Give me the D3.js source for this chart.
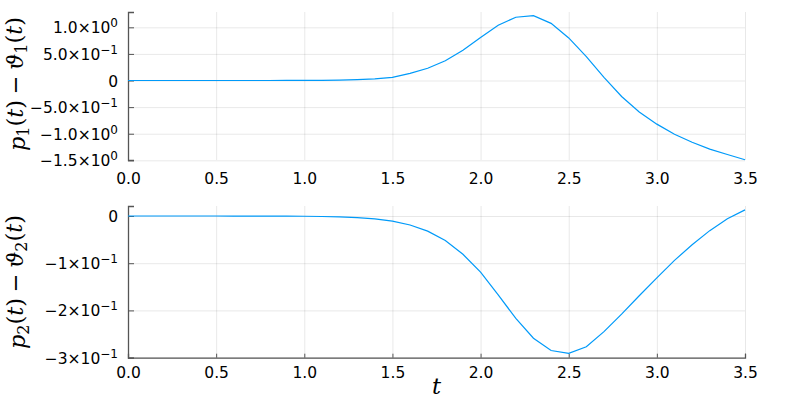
<!DOCTYPE html>
<html>
<head>
<meta charset="utf-8">
<script src="https://cdn.jsdelivr.net/npm/d3@7"></script>
<style>
  body { margin: 0; background: #fff; }
  .tick text { font-family: "DejaVu Sans", sans-serif; font-size: 15.5px; fill: #000; }
  .grid line { stroke: #000; stroke-opacity: 0.09; }
  .grid .domain { display: none; }
  .math { font-family: "DejaVu Serif", serif; font-size: 22.5px; }
</style>
</head>
<body>
<svg id="chart" width="800" height="400"></svg>
<script>
var tValues = [0.0, 0.1, 0.2, 0.3, 0.4, 0.5, 0.6, 0.7, 0.8, 0.9,
  1.0, 1.1, 1.2, 1.3, 1.4, 1.5, 1.6, 1.7, 1.8, 1.9,
  2.0, 2.1, 2.2, 2.3, 2.4, 2.5, 2.6, 2.7, 2.8, 2.9,
  3.0, 3.1, 3.2, 3.3, 3.4, 3.5];

var diff1 = [0, 0, 0, 0, 0, 0, 0.0002, 0.0004, 0.0007, 0.001,
  0.002, 0.004, 0.008, 0.016, 0.03, 0.058, 0.135, 0.23, 0.37, 0.57,
  0.81, 1.04, 1.19, 1.22, 1.075, 0.80, 0.45, 0.06, -0.30, -0.59,
  -0.82, -1.01, -1.16, -1.29, -1.39, -1.49];

var diff2 = [0, 0, 0, 0, 0, 0, -0.00005, -0.0001, -0.0002, -0.0003,
  -0.0005, -0.001, -0.002, -0.0035, -0.006, -0.011, -0.019, -0.032, -0.052, -0.081,
  -0.119, -0.167, -0.217, -0.259, -0.285, -0.291, -0.277, -0.245, -0.208, -0.169,
  -0.131, -0.094, -0.061, -0.031, -0.006, 0.013];

var xTicks = [0, 0.5, 1.0, 1.5, 2.0, 2.5, 3.0, 3.5];

var yTicks1 = [1.0, 0.5, 0, -0.5, -1.0, -1.5];
var yLabels1 = [["1.0", "0"], ["5.0", "\u22121"], ["0", null], ["\u22125.0", "\u22121"], ["\u22121.0", "0"], ["\u22121.5", "0"]];

var yTicks2 = [0, -0.1, -0.2, -0.3];
var yLabels2 = [["0", null], ["\u22121", "\u22121"], ["\u22122", "\u22121"], ["\u22123", "\u22121"]];

var svg = d3.select('#chart');
var left = 128, right = 745;

var x = d3.scaleLinear().domain([0, 3.5]).range([left, right]);

var panels = [
  { data: diff1, top: 12, bottom: 160, domain: [-1.494, 1.288], ticks: yTicks1, labels: yLabels1, sub: '1', xaxis: false, labY: 84 },
  { data: diff2, top: 206, bottom: 357.7, domain: [-0.3002, 0.0212], ticks: yTicks2, labels: yLabels2, sub: '2', xaxis: true, labY: 282 }
];

panels.forEach(p => {
  var y = d3.scaleLinear().domain(p.domain).range([p.bottom, p.top]);
  var h = p.bottom - p.top;

  // grid
  svg.append('g')
    .attr('class', 'grid')
    .attr('transform', 'translate(0,' + p.bottom + ')')
    .call(d3.axisBottom(x).tickValues(xTicks).tickSize(-h).tickFormat(''));
  svg.append('g')
    .attr('class', 'grid')
    .attr('transform', 'translate(' + left + ',0)')
    .call(d3.axisLeft(y).tickValues(p.ticks).tickSize(-(right - left)).tickFormat(''));

  // x axis
  var xa = svg.append('g')
    .attr('transform', 'translate(0,' + p.bottom + ')')
    .call(d3.axisBottom(x).tickValues(xTicks).tickSize(p.xaxis ? -4 : 0).tickPadding(p.xaxis ? 9 : 13).tickFormat(d3.format('.1f')));
  xa.select('.domain').attr('stroke', p.xaxis ? '#555' : 'none').attr('stroke-width', 1.3);
  xa.selectAll('.tick line').attr('stroke', '#555');

  // y axis
  var ya = svg.append('g')
    .attr('transform', 'translate(' + left + ',0)')
    .call(d3.axisLeft(y).tickValues(p.ticks).tickSize(-6).tickPadding(12).tickFormat(''));
  ya.select('.domain').attr('stroke', '#555').attr('stroke-width', 1.3);
  ya.selectAll('.tick line').attr('stroke', '#555');
  ya.selectAll('.tick text').each(function(d, i) {
    var t = d3.select(this).attr('x', -10).attr('dy', '0.36em');
    var lab = p.labels[i];
    t.append('tspan').text(lab[0]);
    if (lab[1] !== null) {
      t.append('tspan').text('\u00d710');
      t.append('tspan').attr('dy', '-0.5em').style('font-size', '12px').text(lab[1]);
    }
  });

  // line
  var line = d3.line().x((d, i) => x(tValues[i])).y(d => y(d));
  svg.append('path')
    .datum(p.data)
    .attr('fill', 'none')
    .attr('stroke', '#009af9')
    .attr('stroke-width', 1.2)
    .attr('d', line);

  // y label
  var lab = svg.append('text')
    .attr('class', 'math')
    .attr('text-anchor', 'middle')
    .attr('transform', 'translate(25,' + p.labY + ') rotate(-90)');
  lab.append('tspan').style('font-style', 'italic').text('p');
  lab.append('tspan').attr('dy', '0.25em').style('font-size', '16px').text(p.sub);
  lab.append('tspan').attr('dy', '-0.25em').text('(');
  lab.append('tspan').style('font-style', 'italic').text('t');
  lab.append('tspan').text(')\u2005\u2212\u2005');
  lab.append('tspan').style('font-style', 'italic').text('\u03d1');
  lab.append('tspan').attr('dy', '0.25em').style('font-size', '16px').text(p.sub);
  lab.append('tspan').attr('dy', '-0.25em').text('(');
  lab.append('tspan').style('font-style', 'italic').text('t');
  lab.append('tspan').text(')');
});

svg.append('text')
  .attr('class', 'math')
  .attr('x', x(1.75))
  .attr('y', 394)
  .attr('text-anchor', 'middle')
  .style('font-style', 'italic')
  .text('t');
</script>
</body>
</html>
